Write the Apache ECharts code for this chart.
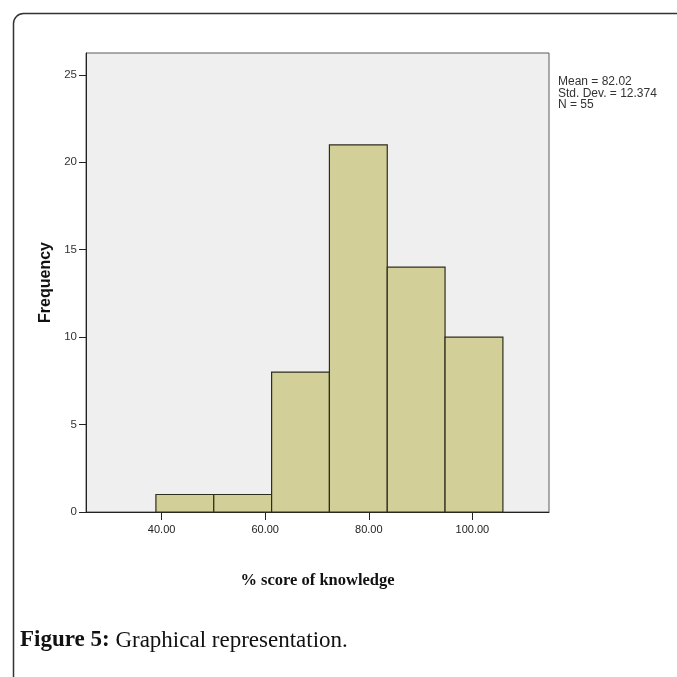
<!DOCTYPE html>
<html>
<head>
<meta charset="utf-8">
<script src="https://cdn.jsdelivr.net/npm/echarts@6/dist/echarts.min.js"></script>
<style>
html,body{margin:0;padding:0;background:#fff;}
#chart{width:677px;height:677px;}
</style>
</head>
<body>
<div id="chart"></div>
<script>
// Histogram bins (bin edges in % score) and their frequencies
const binEdges = [38.9, 50.07, 61.24, 72.4, 83.57, 94.73, 105.9];
const frequencies = [1, 1, 8, 21, 14, 10];
const xTicks = [40, 60, 80, 100];
const yTicks = [0, 5, 10, 15, 20, 25];
const statsLines = ['Mean = 82.02', 'Std. Dev. = 12.374', 'N = 55'];
const xTitle = '% score of knowledge';
const yTitle = 'Frequency';

const histData = frequencies.map((f, i) => [binEdges[i], binEdges[i + 1], f]);

const chart = echarts.init(document.getElementById('chart'), null, {renderer: 'canvas'});
chart.setOption({
  animation: false,
  backgroundColor: '#ffffff',
  grid: {
    left: 86, top: 53, right: 128, bottom: 165,
    show: true, backgroundColor: '#efefef', borderColor: '#5a5a5a', borderWidth: 1
  },
  xAxis: {
    type: 'value', min: 25.4, max: 114.8,
    name: xTitle, nameLocation: 'middle', nameGap: 60,
    nameTextStyle: {fontFamily: 'Liberation Serif', fontWeight: 'bold', fontSize: 16.5, color: '#111'},
    axisLine: {show: true, onZero: false, lineStyle: {color: '#222', width: 1}},
    axisTick: {show: true, length: 8, customValues: xTicks, lineStyle: {color: '#222'}},
    axisLabel: {customValues: xTicks, margin: 12, fontFamily: 'Liberation Sans', fontSize: 11, color: '#222',
      formatter: v => v.toFixed(2)},
    splitLine: {show: false}
  },
  yAxis: {
    type: 'value', min: 0, max: 26.25,
    name: yTitle, nameLocation: 'middle', nameGap: 31, nameRotate: 90,
    nameTextStyle: {fontFamily: 'Liberation Sans', fontWeight: 'bold', fontSize: 16, color: '#111'},
    axisLine: {show: true, onZero: false, lineStyle: {color: '#222', width: 1}},
    axisTick: {show: true, length: 7, customValues: yTicks, lineStyle: {color: '#222'}},
    axisLabel: {customValues: yTicks, margin: 9, fontFamily: 'Liberation Sans', fontSize: 11.5, color: '#333'},
    splitLine: {show: false}
  },
  series: [{
    type: 'custom',
    data: histData,
    encode: {x: [0, 1], y: 2},
    renderItem: function (params, api) {
      const p0 = api.coord([api.value(0), 0]);
      const p1 = api.coord([api.value(1), api.value(2)]);
      return {
        type: 'rect',
        shape: {x: p0[0], y: p1[1], width: p1[0] - p0[0], height: p0[1] - p1[1]},
        style: {fill: '#d3cf98', stroke: '#2e2e1e', lineWidth: 1.2}
      };
    }
  }],
  graphic: [
    {type: 'rect', left: 11, top: 11, z: -1, silent: true,
      shape: {width: 720, height: 720, r: 10},
      style: {fill: null, stroke: '#333', lineWidth: 1.5}},
    {type: 'text', left: 558, top: 76,
      style: {text: statsLines.join('\n'), fontFamily: 'Liberation Sans', fontSize: 12, lineHeight: 11.5, fill: '#333'}},
    {type: 'text', left: 20, top: 629,
      style: {
        text: '{b|Figure 5:} Graphical representation.',
        fontFamily: 'Liberation Serif', fontSize: 23, fill: '#111',
        rich: {b: {fontFamily: 'Liberation Serif', fontWeight: 'bold', fontSize: 23, fill: '#111'}}
      }}
  ]
});
</script>
</body>
</html>
